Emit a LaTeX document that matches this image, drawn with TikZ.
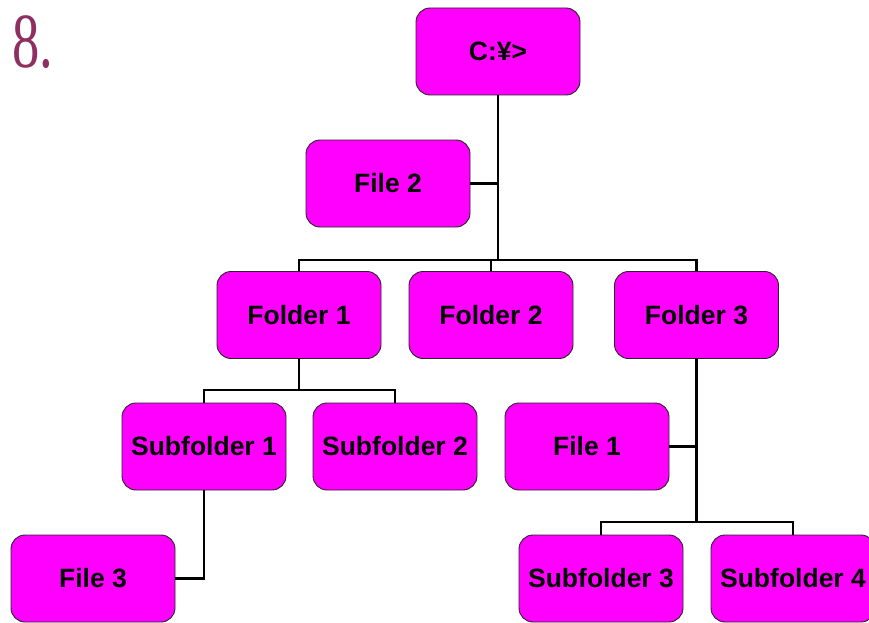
\documentclass[tikz,border=0pt]{standalone}
\usepackage{fontspec}
\setmainfont{Liberation Sans}
\newfontfamily\numfont{Liberation Serif}
\definecolor{boxfill}{HTML}{FF00FF}
\definecolor{numcol}{HTML}{8E2F62}
\begin{document}
\begin{tikzpicture}[x=1pt,y=-1pt,
  box/.style={draw=black!85, line width=0.9pt, fill=boxfill, rounded corners=14pt,
    minimum width=164pt, minimum height=87pt, inner sep=0pt,
    font=\fontsize{26.5}{28}\selectfont\bfseries},
  wire/.style={draw=black, line width=2.6pt}]
\useasboundingbox (0,0) rectangle (869,623);
\clip (0,0) rectangle (869,623);
\node[anchor=base west, text=numcol, xscale=0.7, inner sep=0pt, font=\numfont\fontsize{78}{80}\selectfont] (num) at (12,68) {8.};
\node[box] (c) at (498,51.5) {C:¥>};
\node[box] (f2) at (388,183.5) {File 2};
\node[box] (d1) at (299,315) {Folder 1};
\node[box] (d2) at (491,315) {Folder 2};
\node[box] (d3) at (696.5,315) {Folder 3};
\node[box] (s1) at (204,446.5) {Subfolder 1};
\node[box] (s2) at (395,446.5) {Subfolder 2};
\node[box] (f1) at (587,446.5) {File 1};
\node[box] (f3) at (93,578.5) {File 3};
\node[box] (s3) at (601,578.5) {Subfolder 3};
\node[box] (s4) at (793,578.5) {Subfolder 4};
\coordinate (bus1) at (c.south |- 0,260);
\coordinate (bus2) at (d1.south |- 0,390);
\coordinate (bus3) at (d3.south |- 0,522);
\draw[wire] (c.south) -- (bus1);
\draw[wire] (f2.east) -- (c.south |- f2.east);
\draw[wire] (d1.north) |- (d3.north |- bus1) -- (d3.north);
\draw[wire] (d2.north) -- (d2.north |- bus1);
\draw[wire] (d1.south) -- (bus2);
\draw[wire] (s1.north) |- (s2.north |- bus2) -- (s2.north);
\draw[wire] (d3.south) -- (bus3);
\draw[wire] (f1.east) -- (d3.south |- f1.east);
\draw[wire] (s3.north) |- (s4.north |- bus3) -- (s4.north);
\draw[wire] (s1.south) |- (f3.east);
\end{tikzpicture}
\end{document}
